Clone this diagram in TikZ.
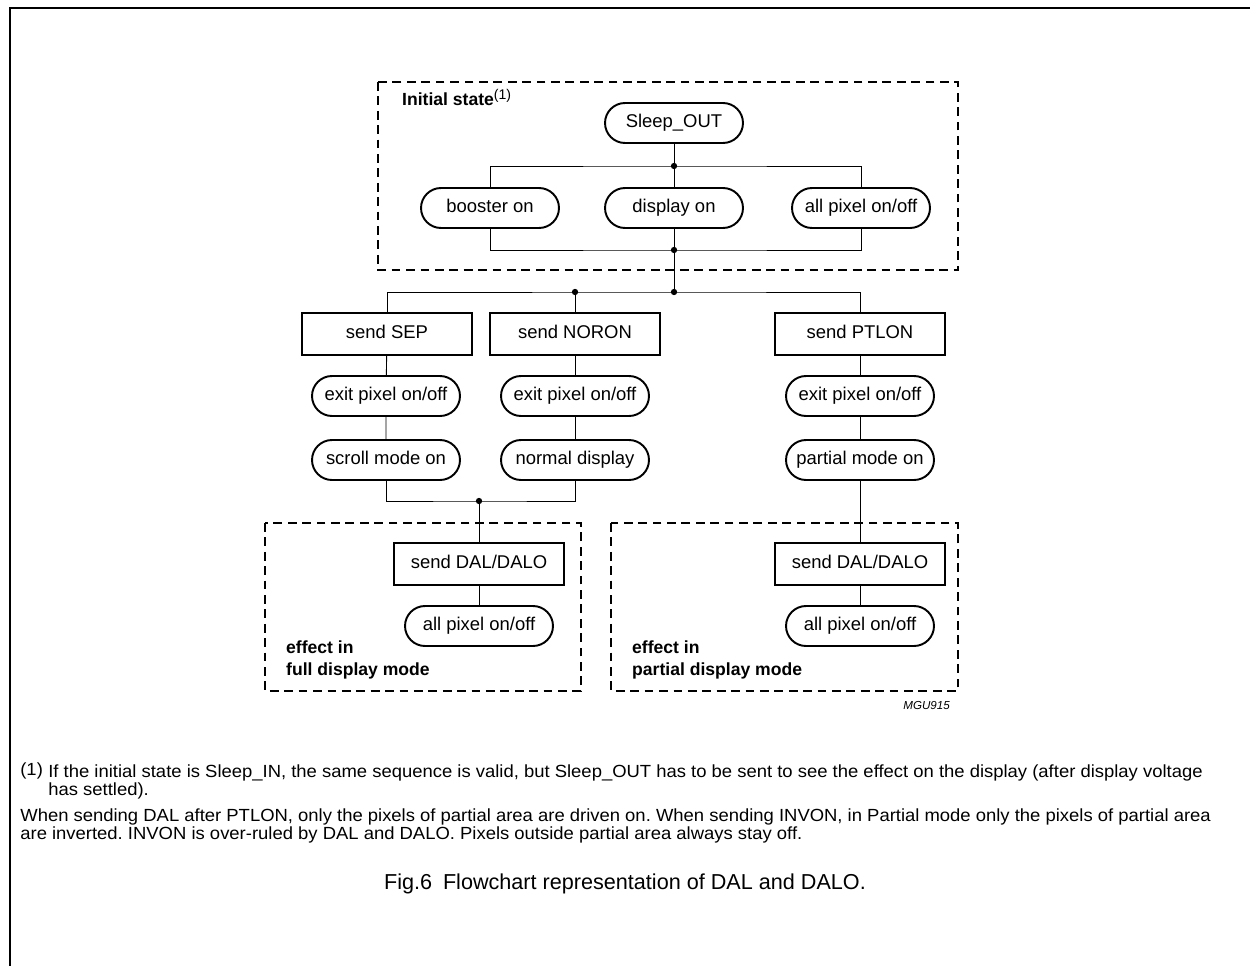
\documentclass[tikz,border=0pt]{standalone}
\usepackage{fontspec}
\setmainfont{Liberation Sans}
\newfontfamily\notefont{Liberation Sans}[FakeStretch=1.05]
\usetikzlibrary{positioning}
\frenchspacing
\tikzset{
  state/.style={
      draw,
      line width=1.1pt,
      rounded corners=0.4cm,
      minimum width=2.76cm,
      minimum height=0.8cm,
      inner sep=2pt,
      text height=0.72em,
      text depth=0.22em,
      font=\fontsize{10.5}{12}\selectfont
  },
  state+/.style={
      state,
      minimum width=2.96cm
  },
  cmd/.style={
      draw,
      line width=1.1pt,
      minimum width=3.4cm,
      minimum height=0.84cm,
      inner sep=2pt,
      text height=0.72em,
      text depth=0.22em,
      font=\fontsize{10.5}{12}\selectfont
  },
  region/.style={draw, line width=1pt, dash pattern=on 5pt off 3.2pt},
  wire/.style={line width=0.5pt},
  tag/.style={font=\bfseries\fontsize{10}{12.5}\selectfont, align=left}
}
\begin{document}
\begin{tikzpicture}[x=0.02cm,y=-0.02cm]
\useasboundingbox (0,0) rectangle (1250,966);
% frame and dashed regions
\draw[line width=1.2pt] (10,966) -- (10,8) -- (1250,8);
\draw[region] (378,82) rectangle (958,270);
\draw[region] (265,523) rectangle (581,691);
\draw[region] (611,523) rectangle (958,691);
% initial state
\node[tag, anchor=base west] (initlbl) at (396,106) {Initial state\textsuperscript{\mdseries\fontsize{8}{8}\selectfont(1)}};
\node[state] (sleep) at (674,123) {Sleep\_OUT};
\node[state] (booster) at (490,208) {booster on};
\node[state] (display) at (674,208) {display on};
\node[state] (allpix) at (861,208) {all pixel on/off};
% commands
\node[cmd] (sep) at (387,334) {send SEP};
\node[cmd] (noron) at (575,334) {send NORON};
\node[cmd] (ptlon) at (860,334) {send PTLON};
\node[state+] (sepexit) at (386,396) {exit pixel on/off};
\node[state+] (norexit) at (575,396) {exit pixel on/off};
\node[state+] (ptlexit) at (860,396) {exit pixel on/off};
\node[state+] (scroll) at (386,460) {scroll mode on};
\node[state+] (normal) at (575,460) {normal display};
\node[state+] (partial) at (860,460) {partial mode on};
% effect regions
\node[cmd] (dalfull) at (479,564) {send DAL/DALO};
\node[state+] (allfull) at (479,626) {all pixel on/off};
\node[tag, anchor=base west] (fulllbl) at (280,675) {effect in\\full display mode};
\node[cmd] (dalpart) at (860,564) {send DAL/DALO};
\node[state+] (allpart) at (860,626) {all pixel on/off};
\node[tag, anchor=base west] (partlbl) at (626,675) {effect in\\partial display mode};
\node[anchor=base east, font=\itshape\fontsize{6.6}{8}\selectfont] (code) at (956,709) {MGU915};
% wiring
\coordinate (j1) at (674,166);
\coordinate (j2) at (674,250);
\coordinate (j3) at (674,292);
\coordinate (j4) at (575,292);
\coordinate (j5) at (479,501);
\draw[wire] (sleep) -- (j1);
\draw[wire] (display) -- (j1);
\draw[wire] (booster) |- (j1) -| (allpix);
\draw[wire] (booster) |- (j2) -| (allpix);
\draw[wire] (display) -- (j2) -- (j3);
\draw[wire] (sep) |- (j3) -| (ptlon);
\draw[wire] (noron) -- (j4);
\draw[wire] (sep) -- (sepexit) -- (scroll);
\draw[wire] (noron) -- (norexit) -- (normal);
\draw[wire] (ptlon) -- (ptlexit) -- (partial);
\draw[wire] (scroll) |- (j5) -| (normal);
\draw[wire] (j5) -- (dalfull) -- (allfull);
\draw[wire] (partial) -- (dalpart) -- (allpart);
\foreach \j in {j1,j2,j3,j4,j5}
  \fill (\j) circle (1.8pt);
% notes
\begin{scope}[every node/.style={font=\notefont\fontsize{10}{10.5}\selectfont, align=left, inner sep=0pt}]
  \node[anchor=base west] (fnmark) at (20,775) {(1)};
  \node[anchor=north west] (fntext) at (48,764) {If the initial state is Sleep\_IN, the same sequence is valid, but Sleep\_OUT has to be sent to see the effect on the display (after display voltage\\has settled).};
  \node[anchor=north west] (remark) at (20,808) {When sending DAL after PTLON, only the pixels of partial area are driven on. When sending INVON, in Partial mode only the pixels of partial area\\are inverted. INVON is over-ruled by DAL and DALO. Pixels outside partial area always stay off.};
\end{scope}
\node[anchor=base, font=\fontsize{12.3}{14}\selectfont] (caption) at (625,889) {Fig.6\enspace Flowchart representation of DAL and DALO.};
\end{tikzpicture}
\end{document}
